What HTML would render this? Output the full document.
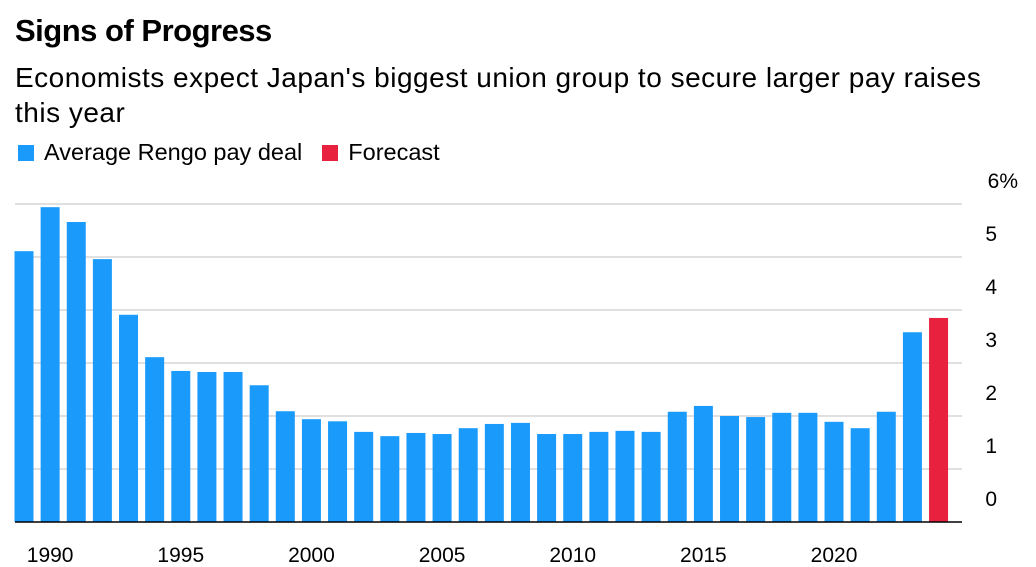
<!DOCTYPE html>
<html><head><meta charset="utf-8"><style>
body{margin:0;width:1036px;height:567px;background:#fff;font-family:"Liberation Sans",sans-serif;overflow:hidden}
#title{position:absolute;left:15px;top:13px;font-size:31px;font-weight:bold;color:#000;letter-spacing:-0.5px}
#sub{position:absolute;left:15px;top:60px;font-size:28px;line-height:35px;color:#000;width:1020px;letter-spacing:0.5px;white-space:nowrap}
#legend{position:absolute;left:18px;top:139px;font-size:23.5px;color:#000;display:flex;gap:20px}
.li{display:flex;align-items:center}
.sw{width:16px;height:16px;margin-right:10px}
svg{position:absolute;left:0;top:0}
</style></head><body>
<div id="title">Signs of Progress</div>
<div id="sub">Economists expect Japan's biggest union group to secure larger pay raises<br>this year</div>
<div id="legend">
<div class="li"><div class="sw" style="background:#1a9bfc"></div>Average Rengo pay deal</div>
<div class="li"><div class="sw" style="background:#e8213f"></div>Forecast</div>
</div>
<svg id="chart" width="1036" height="567"></svg>
<script>
const years=[1989,1990,1991,1992,1993,1994,1995,1996,1997,1998,1999,2000,2001,2002,2003,2004,2005,2006,2007,2008,2009,2010,2011,2012,2013,2014,2015,2016,2017,2018,2019,2020,2021,2022,2023,2024];
const values=[5.11,5.94,5.66,4.96,3.91,3.11,2.85,2.83,2.83,2.58,2.09,1.94,1.90,1.70,1.62,1.68,1.66,1.77,1.85,1.87,1.66,1.66,1.70,1.72,1.70,2.08,2.19,2.00,1.98,2.06,2.06,1.89,1.77,2.08,3.58,3.85];
const forecastYears=[2024];
const yTicks=[0,1,2,3,4,5,6];
const xTicks=[1990,1995,2000,2005,2010,2015,2020];
const NS="http://www.w3.org/2000/svg";
const svg=document.getElementById('chart');
const y=v=>522-v*53;
const x=yr=>24+(yr-1989)*26.13;
const bw=19;
function mk(t,a){const e=document.createElementNS(NS,t);for(const k in a)e.setAttribute(k,a[k]);svg.appendChild(e);return e;}
yTicks.forEach(t=>{
 if(t>0){const l=mk('line',{x1:15,x2:962,y1:y(t),y2:y(t),stroke:'#d6d6d6','stroke-width':1.5});
 
 }
 const tx=mk('text',{x:t==6?1018:997,y:y(t)-16,'text-anchor':'end','font-size':21,fill:'#000'});
 tx.textContent=t==6?'6%':String(t);
 
 
});
years.forEach((yr,i)=>{
 const r=mk('rect',{x:x(yr)-bw/2,y:y(values[i]),width:bw,height:522-y(values[i]),fill:forecastYears.includes(yr)?'#e8213f':'#1a9bfc'});
 
 
});
const base=mk('line',{x1:15,x2:962,y1:522,y2:522,stroke:'#000','stroke-width':1.5});


xTicks.forEach(t=>{
 const tx=mk('text',{x:x(t),y:562,'text-anchor':'middle','font-size':21,fill:'#000'});
 tx.textContent=String(t);
 
 
});
</script>
</body></html>
